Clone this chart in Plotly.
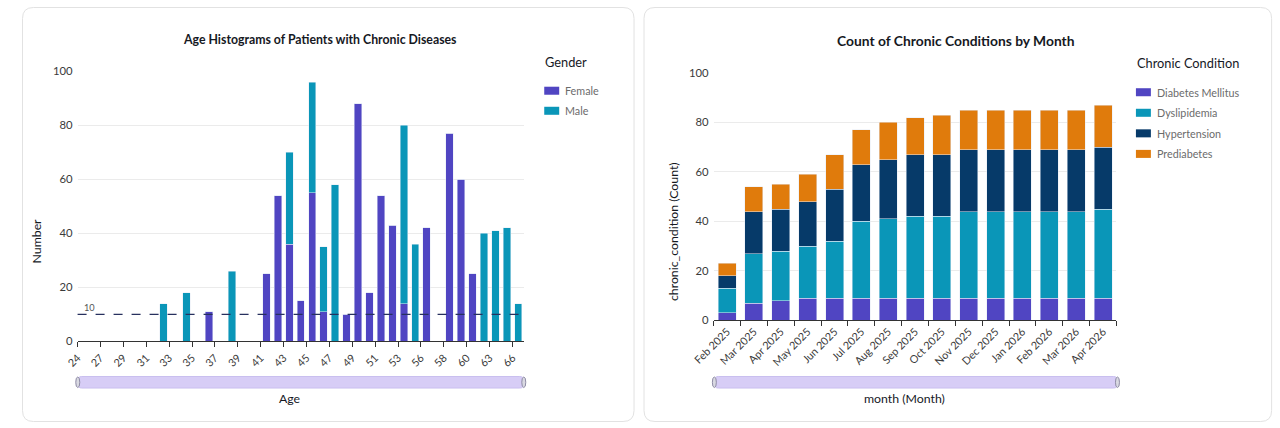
import plotly.graph_objects as go

W, H = 1280, 428
# observed photo mapping for this page: screen_x = 21.6 + 0.985*x, screen_y = 7.5 + 0.967*y
AX, BX, AY, BY = 21.6, 0.985, 7.5, 0.967
FS = 1.025  # font compensation


def px(x):
    return min(max(((x - AX) / BX) / W, 0.0004), 0.9996)


def py(y):
    return min(max(1 - ((y - AY) / BY) / H, 0.0012), 0.9988)


# ---------------- Left chart data (age histogram, 39 bins) ----------------
age_tick_labels = ["24", "27", "29", "31", "33", "35", "37", "39", "41", "43",
                   "45", "47", "49", "51", "53", "56", "58", "60", "63", "66"]
age_bin_index = list(range(39))
female_counts = [0, 0, 0, 0, 0, 0, 0, 0, 0, 0,
                 0, 11, 0, 0, 0, 0, 25, 54, 36, 15,
                 55, 11, 0, 10, 88, 18, 54, 43, 14, 0,
                 42, 0, 77, 60, 25, 0, 0, 0, 0]
male_counts = [0, 0, 0, 0, 0, 0, 0, 14, 0, 18,
               0, 0, 0, 26, 0, 0, 0, 0, 34, 0,
               41, 24, 58, 0, 0, 0, 0, 0, 66, 36,
               0, 0, 0, 0, 0, 40, 41, 42, 14]
reference_value = 10

# ---------------- Right chart data (monthly stacked counts) ----------------
months = ["Feb 2025", "Mar 2025", "Apr 2025", "May 2025", "Jun 2025", "Jul 2025",
          "Aug 2025", "Sep 2025", "Oct 2025", "Nov 2025", "Dec 2025", "Jan 2026",
          "Feb 2026", "Mar 2026", "Apr 2026"]
diabetes = [3, 7, 8, 9, 9, 9, 9, 9, 9, 9, 9, 9, 9, 9, 9]
dyslipidemia = [10, 20, 20, 21, 23, 31, 32, 33, 33, 35, 35, 35, 35, 35, 36]
hypertension = [5, 17, 17, 18, 21, 23, 24, 25, 25, 25, 25, 25, 25, 25, 25]
prediabetes = [5, 10, 10, 11, 14, 14, 15, 15, 16, 16, 16, 16, 16, 16, 17]

FEMALE = "#5045c2"
MALE = "#0a96b8"
NAVY = "#063a69"
ORANGE = "#e07b0c"
FONT = "Lato"

fig = go.Figure()
fig.add_trace(go.Bar(x=age_bin_index, y=female_counts, name="Female", marker_color=FEMALE,
                     width=0.65, xaxis="x", yaxis="y", showlegend=False))
fig.add_trace(go.Bar(x=age_bin_index, y=male_counts, name="Male", marker_color=MALE,
                     width=0.65, xaxis="x", yaxis="y", showlegend=False))

for name, vals, col in [("Diabetes Mellitus", diabetes, FEMALE),
                        ("Dyslipidemia", dyslipidemia, MALE),
                        ("Hypertension", hypertension, NAVY),
                        ("Prediabetes", prediabetes, ORANGE)]:
    fig.add_trace(go.Bar(x=months, y=vals, name=name, marker_color=col, width=0.67,
                         xaxis="x2", yaxis="y2", showlegend=False))


def rounded_rect_frac(fx0, fy0, fx1, fy1, rx, ry):
    # fractions in paper coords (fy0 top > fy1 bottom)
    pts = [
        f"M {fx0 + rx},{fy0}", f"L {fx1 - rx},{fy0}",
        f"Q {fx1},{fy0} {fx1},{fy0 - ry}", f"L {fx1},{fy1 + ry}",
        f"Q {fx1},{fy1} {fx1 - rx},{fy1}", f"L {fx0 + rx},{fy1}",
        f"Q {fx0},{fy1} {fx0},{fy1 + ry}", f"L {fx0},{fy0 - ry}",
        f"Q {fx0},{fy0} {fx0 + rx},{fy0}", "Z"]
    return " ".join(pts)


def rounded_rect(x0, y0, x1, y1, r):
    return rounded_rect_frac(px(x0), py(y0), px(x1), py(y1), r / BX / W, r / BY / H)


shapes = []
# cards
for (x0, x1) in [(5, 635), (645, 1274)]:
    shapes.append(dict(type="path", path=rounded_rect(x0, 7, x1, 423, 11), xref="paper", yref="paper",
                       line=dict(color="#e2e2e2", width=1), fillcolor="white", layer="below"))
# reference line
shapes.append(dict(type="line", xref="x domain", yref="y", x0=0, x1=1, y0=reference_value, y1=reference_value,
                   line=dict(color="#27305e", width=1.2, dash="dash"), layer="above"))

# range sliders (decorative)
for (x0, x1) in [(77.5, 524.5), (715.5, 1119.5)]:
    shapes.append(dict(type="path", path=rounded_rect(x0, 376, x1, 387.5, 4), xref="paper", yref="paper",
                       line=dict(color="#c9bfef", width=1), fillcolor="#d7cdf6", layer="above"))
    for hx in (x0, x1):
        shapes.append(dict(type="circle", xref="paper", yref="paper",
                           x0=px(hx - 2), x1=px(hx + 2), y0=py(387), y1=py(376.5),
                           line=dict(color="#8f8ca6", width=1), fillcolor="#d9d9e2", layer="above"))

# legend swatches
legend_left = [("Female", FEMALE, 91), ("Male", MALE, 111)]
legend_right = [("Diabetes Mellitus", FEMALE, 92.5), ("Dyslipidemia", MALE, 113),
                ("Hypertension", NAVY, 133.5), ("Prediabetes", ORANGE, 154)]
annotations = []
for items, sx in [(legend_left, 545), (legend_right, 1138)]:
    for label, col, yy in items:
        shapes.append(dict(type="rect", xref="paper", yref="paper", x0=px(sx), x1=px(sx + 15),
                           y0=py(yy + 4), y1=py(yy - 4), fillcolor=col, line=dict(width=0)))
        annotations.append(dict(text=label, x=px(sx + 19), y=py(yy), xref="paper", yref="paper",
                                xanchor="left", yanchor="middle", showarrow=False,
                                font=dict(family=FONT, size=10.5 * FS, color="#6b6b6b")))

annotations += [
    dict(text="<b>Age Histograms of Patients with Chronic Diseases</b>", x=px(320), y=py(40),
         xref="paper", yref="paper", showarrow=False, xanchor="center", yanchor="middle",
         font=dict(family=FONT, size=12 * FS, color="#16191f")),
    dict(text="<b>Count of Chronic Conditions by Month</b>", x=px(958), y=py(41),
         xref="paper", yref="paper", showarrow=False, xanchor="center", yanchor="middle",
         font=dict(family=FONT, size=13.5 * FS, color="#16191f")),
    dict(text="Gender", x=px(544), y=py(62.5), xref="paper", yref="paper", showarrow=False,
         xanchor="left", yanchor="middle", font=dict(family=FONT, size=12.5 * FS, color="#16191f")),
    dict(text="Chronic Condition", x=px(1137), y=py(63.5), xref="paper", yref="paper", showarrow=False,
         xanchor="left", yanchor="middle", font=dict(family=FONT, size=12.5 * FS, color="#16191f")),
    dict(text="Number", x=px(36), y=py(241), xref="paper", yref="paper", showarrow=False,
         textangle=-90, xanchor="center", yanchor="middle", font=dict(family=FONT, size=12 * FS, color="#16191f")),
    dict(text="chronic_condition (Count)", x=px(674), y=py(231), xref="paper", yref="paper", showarrow=False,
         textangle=-90, xanchor="center", yanchor="middle", font=dict(family=FONT, size=12 * FS, color="#16191f")),
    dict(text="Age", x=px(290), y=py(398), xref="paper", yref="paper", showarrow=False,
         xanchor="center", yanchor="middle", font=dict(family=FONT, size=12 * FS, color="#16191f")),
    dict(text="month (Month)", x=px(906), y=py(398), xref="paper", yref="paper", showarrow=False,
         xanchor="center", yanchor="middle", font=dict(family=FONT, size=12 * FS, color="#16191f")),
    dict(text=str(reference_value), x=px(82), xref="paper", y=reference_value, yref="y", yshift=7,
         showarrow=False, xanchor="left", yanchor="middle", font=dict(family=FONT, size=9 * FS, color="#555")),
]

tickfont = dict(family=FONT, size=11 * FS, color="#3a3a3a")
xtickfont = dict(family=FONT, size=10.5 * FS, color="#3a3a3a")

fig.update_layout(
    width=W, height=H, autosize=False,
    margin=dict(l=0, r=0, t=0, b=0),
    paper_bgcolor="white", plot_bgcolor="rgba(0,0,0,0)",
    barmode="stack", showlegend=False,
    font=dict(family=FONT),
    shapes=shapes, annotations=annotations,
    xaxis=dict(domain=[px(77.3), px(524.7)], anchor="y", range=[-0.5, 38.5],
               tickmode="array", tickvals=[2 * k - 0.5 for k in range(len(age_tick_labels))],
               ticktext=age_tick_labels, tickangle=-45, ticks="outside", ticklen=5, tickcolor="#333",
               showline=True, linecolor="#333", linewidth=1, showgrid=False, zeroline=False,
               tickfont=xtickfont, fixedrange=True),
    yaxis=dict(domain=[py(341), py(71.7)], anchor="x", range=[0, 100], dtick=20,
               gridcolor="#ebebeb", showline=False, zeroline=False, tickfont=tickfont,
               ticklabelstandoff=4, fixedrange=True),
    xaxis2=dict(domain=[px(714.8), px(1118.5)], anchor="y2", type="category",
                tickangle=-45, ticks="outside", ticklen=5, tickcolor="#333", tickson="boundaries",
                showline=True, linecolor="#333", linewidth=1, showgrid=False, zeroline=False,
                tickfont=xtickfont, fixedrange=True),
    yaxis2=dict(domain=[py(320), py(73.3)], anchor="x2", range=[0, 100], dtick=20,
                gridcolor="#ebebeb", showline=False, zeroline=False, tickfont=tickfont,
                ticklabelstandoff=4, fixedrange=True),
)

fig.write_html("out.html")
